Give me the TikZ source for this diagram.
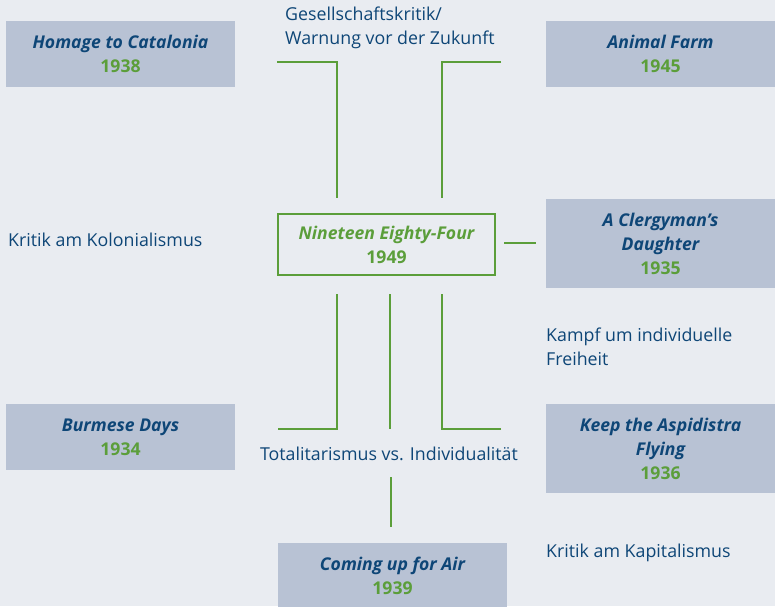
\documentclass[tikz,border=0pt]{standalone}
\usepackage{fontspec}
\setmainfont{Open Sans}
\usetikzlibrary{positioning}
\definecolor{orwBlau}{HTML}{0E4677}
\definecolor{orwGruen}{HTML}{5B9E3A}
\definecolor{orwGrau}{HTML}{B8C2D4}
\definecolor{orwGrund}{HTML}{E9ECF1}

\begin{document}
\begin{tikzpicture}[x=1pt, y=-1pt,
      buch/.style={fill=orwGrau, minimum width=229pt, minimum height=#1,
                   inner sep=0pt, align=center,
                   font=\fontsize{17.6}{24}\selectfont\bfseries},
      buch/.default=66pt,
      thema/.style={text=orwBlau, align=left, inner sep=0pt,
                    font=\fontsize{17.8}{24}\selectfont},
      ast/.style={draw=orwGruen, line width=2pt}]
    % Hintergrund
    \fill[orwGrund] (0,0) rectangle (775,606);
    \clip (0,0) rectangle (775,606);
    % Mitte
    \node[draw=orwGruen, line width=2.5pt, minimum width=217pt, minimum height=61pt,
          inner sep=0pt, align=center, text=orwGruen,
          font=\fontsize{17.6}{24}\selectfont\bfseries] (nef) at (386.5,244.5)
          {\itshape Nineteen Eighty-Four\\1949};
    % Romane
    \node[buch] (hom) at (120.5,54) {\textcolor{orwBlau}{\itshape Homage to Catalonia}\\\textcolor{orwGruen}{1938}};
    \node[buch] (ani) at (660.5,54) {\textcolor{orwBlau}{\itshape Animal Farm}\\\textcolor{orwGruen}{1945}};
    \node[buch=89pt] (cle) at (660.5,243.5) {\textcolor{orwBlau}{\itshape A Clergyman's}\\\textcolor{orwBlau}{\itshape Daughter}\\\textcolor{orwGruen}{1935}};
    \node[buch] (bur) at (120.5,437) {\textcolor{orwBlau}{\itshape Burmese Days}\\\textcolor{orwGruen}{1934}};
    \node[buch=89pt] (kee) at (660.5,448.5) {\textcolor{orwBlau}{\itshape Keep the Aspidistra}\\\textcolor{orwBlau}{\itshape Flying}\\\textcolor{orwGruen}{1936}};
    \node[buch] (com) at (392.5,576) {\textcolor{orwBlau}{\itshape Coming up for Air}\\\textcolor{orwGruen}{1939}};
    % Themen
    \node[thema, anchor=west] (ges) at (285,28) {Gesellschaftskritik/\\Warnung vor der Zukunft};
    \node[thema, anchor=west] (kol) at (8,239.5) {Kritik am Kolonialismus};
    \node[thema, anchor=west] (fre) at (546,346.5) {Kampf um individuelle\\Freiheit};
    \node[thema] (tot) at (389,453.5) {Totalitarismus vs. Individualit\"at};
    \node[thema, anchor=west] (kap) at (546,552.5) {Kritik am Kapitalismus};
    % Verbindungen
    \coordinate (o1) at (277,62);  \coordinate (o2) at (337,198);
    \coordinate (o3) at (501,62);  \coordinate (o4) at (442,198);
    \coordinate (r1) at (504,243); \coordinate (r2) at (536,243);
    \coordinate (u1) at (278,429); \coordinate (u2) at (337,294);
    \coordinate (u3) at (390,294); \coordinate (u4) at (390,429);
    \coordinate (u5) at (501,429); \coordinate (u6) at (442,294);
    \coordinate (c1) at (391,477); \coordinate (c2) at (391,527);
    \draw[ast] (o1) -| (o2);
    \draw[ast] (o3) -| (o4);
    \draw[ast] (r1) -- (r2);
    \draw[ast] (u1) -| (u2);
    \draw[ast] (u3) -- (u4);
    \draw[ast] (u5) -| (u6);
    \draw[ast] (c1) -- (c2);
  \end{tikzpicture}
\end{document}
